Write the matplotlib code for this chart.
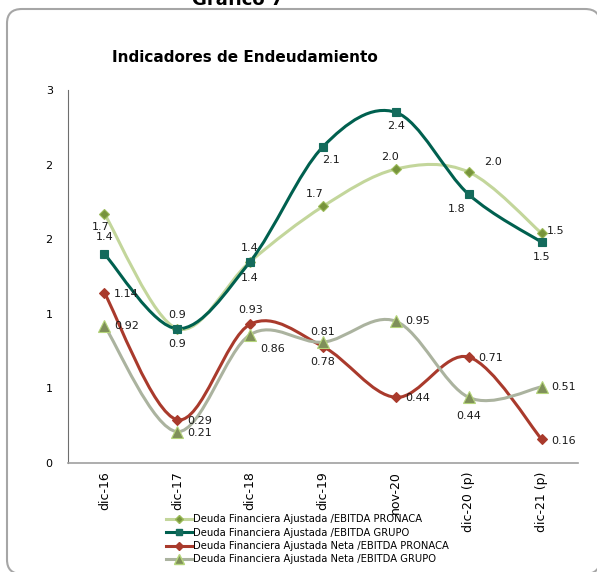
import matplotlib.pyplot as plt
from matplotlib.path import Path
from matplotlib.patches import PathPatch, FancyBboxPatch
import numpy as np

# datos
categorias = ['dic-16', 'dic-17', 'dic-18', 'dic-19', 'nov-20', 'dic-20 (p)', 'dic-21 (p)']
deuda_pronaca = [1.67, 0.90, 1.35, 1.72, 1.97, 1.95, 1.54]
deuda_grupo = [1.40, 0.90, 1.35, 2.12, 2.35, 1.80, 1.48]
neta_pronaca = [1.14, 0.29, 0.93, 0.78, 0.44, 0.71, 0.16]
neta_grupo = [0.92, 0.21, 0.86, 0.81, 0.95, 0.44, 0.51]

etiq_pronaca = ['1.7', '0.9', '1.4', '1.7', '2.0', '2.0', '1.5']
etiq_grupo = ['1.4', '0.9', '1.4', '2.1', '2.4', '1.8', '1.5']
etiq_neta_pronaca = ['1.14', '0.29', '0.93', '0.78', '0.44', '0.71', '0.16']
etiq_neta_grupo = ['0.92', '0.21', '0.86', '0.81', '0.95', '0.44', '0.51']

nombres = ['Deuda Financiera Ajustada /EBITDA PRONACA',
           'Deuda Financiera Ajustada /EBITDA GRUPO',
           'Deuda Financiera Ajustada Neta /EBITDA PRONACA',
           'Deuda Financiera Ajustada Neta /EBITDA GRUPO']

# desplazamientos de etiquetas (pixeles, y positivo = arriba)
off_pronaca = [(-4, -13), (0, 14), (0, 14), (-8, 12), (-6, 12), (24, 10), (14, 2)]
off_grupo = [(0, 17), (0, -15), (0, -16), (8, -13), (0, -14), (-12, -15), (0, -15)]
off_neta_pronaca = [(22, -1), (22, -1), (0, 14), (0, -15), (22, -1), (22, -1), (22, -2)]
off_neta_grupo = [(22, 0), (22, -1), (22, -14), (0, 10), (22, 0), (0, -19), (22, 0)]


def curva_suave(ax, y, color, lw):
    # bezier tipo Excel (catmull-rom) en coordenadas de datos
    x = np.arange(len(y), dtype=float)
    pts = np.column_stack([x, np.array(y, dtype=float)])
    verts = [pts[0]]
    codes = [Path.MOVETO]
    n = len(pts)
    for i in range(n - 1):
        p0 = pts[i - 1] if i > 0 else pts[i]
        p1 = pts[i]
        p2 = pts[i + 1]
        p3 = pts[i + 2] if i + 2 < n else pts[i + 1]
        c1 = p1 + (p2 - p0) / 6
        c2 = p2 - (p3 - p1) / 6
        verts += [c1, c2, p2]
        codes += [Path.CURVE4] * 3
    ax.add_patch(PathPatch(Path(verts, codes), fill=False, edgecolor=color, lw=lw, zorder=2))


fig = plt.figure(figsize=(5.97, 5.72), dpi=100)
W, H = 597, 572

# marco redondeado
marco = FancyBboxPatch((7 / W, 1 - 574 / H), (600 - 7) / W, (574 - 9) / H,
                       boxstyle='round,pad=0,rounding_size=0.025', transform=fig.transFigure,
                       facecolor='white', edgecolor='#a6a6a6', lw=1.5, clip_on=False, zorder=-5)
fig.patches.append(marco)

fig.text(238 / W, 1 + 9 / H, 'Gráfico 7', ha='center', va='top', fontsize=13,
         fontweight='bold', color='black', zorder=-4)
fig.text(245 / W, 1 - 58 / H, 'Indicadores de Endeudamiento', ha='center', va='center',
         fontsize=11, fontweight='bold', color='black')

ax = fig.add_axes([68 / W, 1 - 463 / H, (578 - 68) / W, (463 - 90) / H])
ax.set_facecolor('none')

series = [
    (deuda_pronaca, etiq_pronaca, off_pronaca, '#c3d69b', 'D', '#77933c', '#9bbb59', 5),
    (deuda_grupo, etiq_grupo, off_grupo, '#00604f', 's', '#146b5c', '#146b5c', 6),
    (neta_pronaca, etiq_neta_pronaca, off_neta_pronaca, '#a93a2c', 'D', '#a93a2c', '#a93a2c', 5),
    (neta_grupo, etiq_neta_grupo, off_neta_grupo, '#abb39f', '^', '#7f8f5a', '#b5d57a', 8),
]

x = np.arange(len(categorias))
for (vals, etiqs, offs, col, mk, mcol, medge, ms), nombre in zip(series, nombres):
    curva_suave(ax, vals, col, 2.2)
    ax.plot(x, vals, linestyle='none', marker=mk, markersize=ms, markerfacecolor=mcol,
            markeredgecolor=medge, markeredgewidth=0.8, zorder=3)
    ax.plot([], [], color=col, lw=2.2, marker=mk, markersize=ms - 1,
            markerfacecolor=mcol, markeredgecolor=medge, label=nombre)
    for xi, yi, t, (dx, dy) in zip(x, vals, etiqs, offs):
        ax.annotate(t, (xi, yi), xytext=(dx, dy), textcoords='offset pixels',
                    ha='center', va='center', fontsize=8, color='#1a1a1a', zorder=4)

ax.set_xlim(-0.5, 6.5)
ax.set_ylim(0, 2.5)
ax.set_yticks([0, 0.5, 1, 1.5, 2, 2.5])
ax.set_yticklabels(['0', '1', '1', '2', '2', '3'], fontsize=8)
ax.set_xticks(x)
ax.set_xticklabels(categorias, rotation=90, fontsize=9)
ax.tick_params(length=0, pad=12)
ax.tick_params(axis='y', pad=11)
ax.tick_params(axis='x', pad=6)
for s in ['top', 'right']:
    ax.spines[s].set_visible(False)
ax.spines['left'].set_color('#6e6e6e')
ax.spines['bottom'].set_color('#a0a0a0')
ax.spines['bottom'].set_linewidth(1.2)

ax.legend(loc='upper left', bbox_to_anchor=(166 / W, 1 - 514 / H), bbox_transform=fig.transFigure,
          frameon=False, fontsize=7.2, handlelength=2.6, handletextpad=0.1,
          labelspacing=0.35, borderpad=0, borderaxespad=0)

fig.savefig('out.png', dpi=100)
